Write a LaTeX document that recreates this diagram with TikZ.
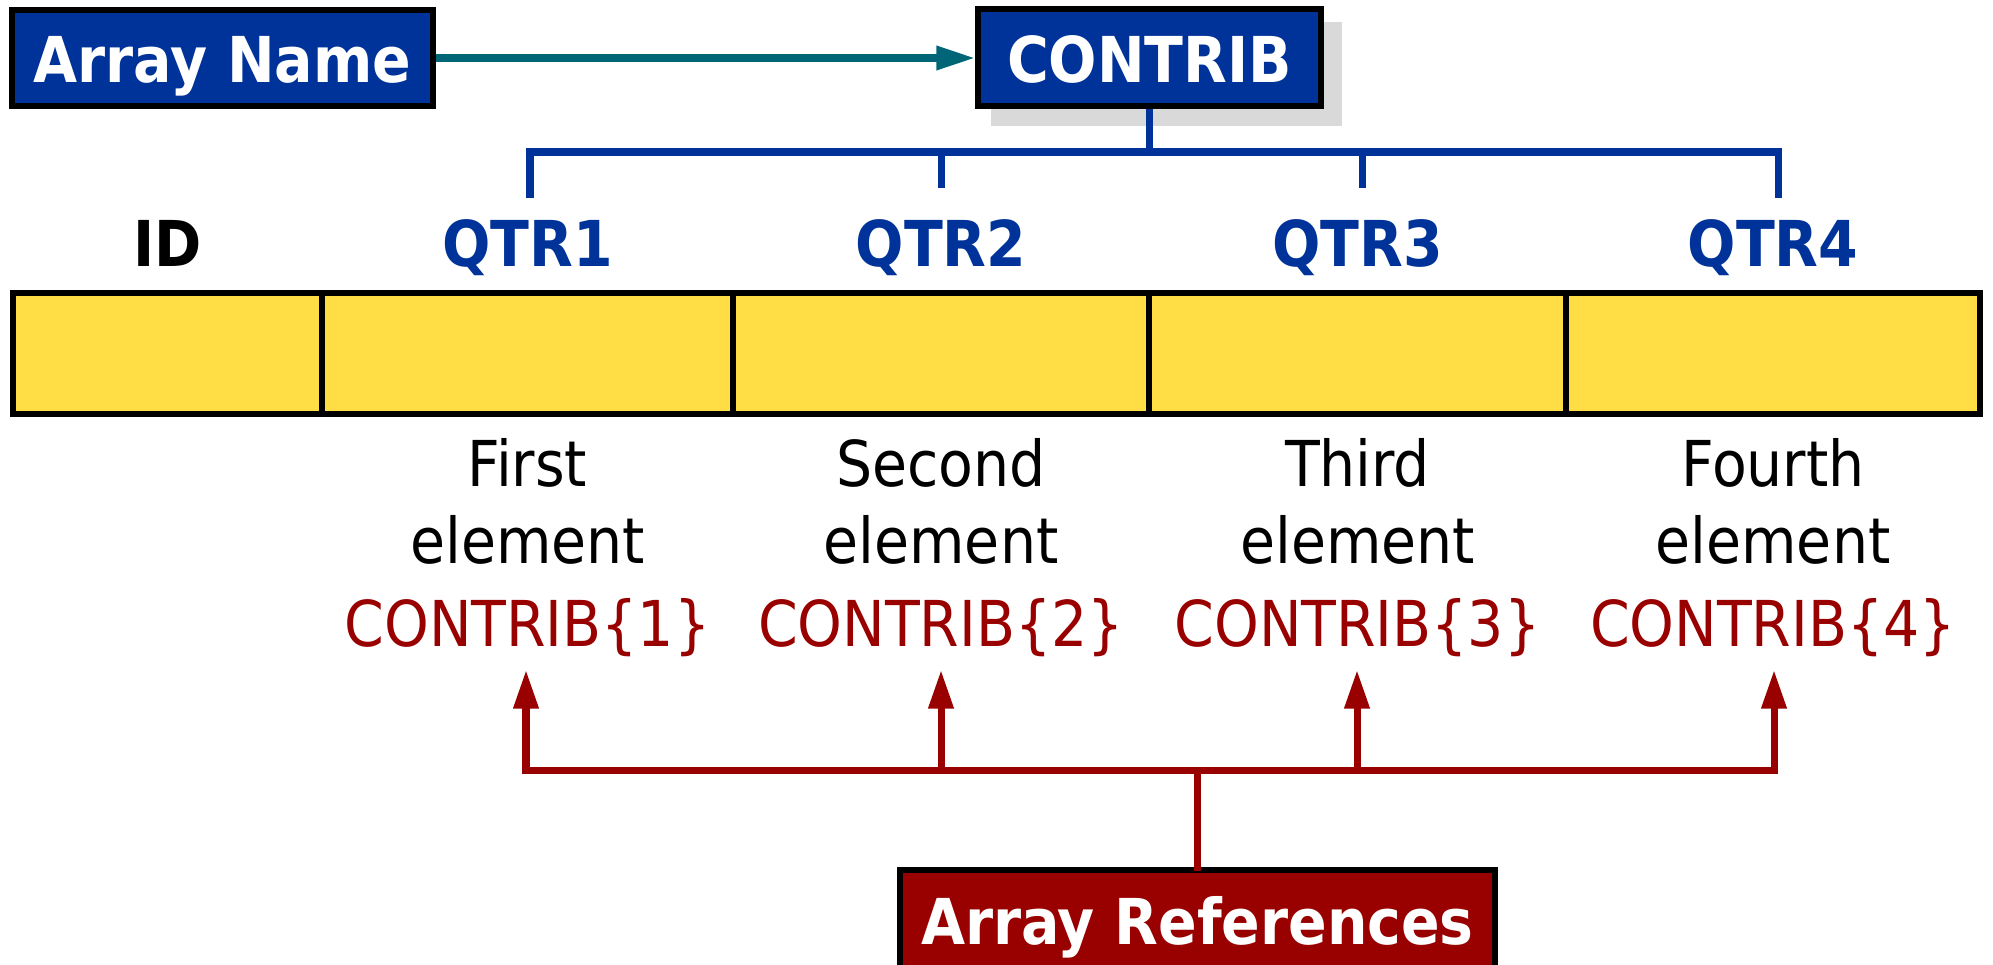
\documentclass[tikz,border=0pt]{standalone}
\usepackage{fontspec}
\setmainfont{DejaVu Sans Condensed}
\usetikzlibrary{arrows.meta}
\definecolor{nblue}{RGB}{0,51,153}
\definecolor{nteal}{RGB}{0,102,119}
\definecolor{nyellow}{RGB}{255,221,68}
\definecolor{nred}{RGB}{153,0,0}
\definecolor{nshadow}{RGB}{217,217,217}
\begin{document}
\begin{tikzpicture}[x=0.02cm,y=-0.02cm,
  every node/.style={inner sep=0pt},
  bigfont/.style={font=\fontsize{36}{43}\selectfont},
  boldfont/.style={font=\bfseries\fontsize{36}{43}\selectfont},
  bluebox/.style={boldfont, draw=black, line width=3.4pt, fill=nblue, text=white, text height=1cm, text depth=0pt},
  redbox/.style={boldfont, draw=black, line width=3.4pt, fill=nred, text=white, text height=1cm, text depth=1.44cm},
  cell/.style={draw=black, line width=3.4pt, fill=nyellow, minimum height=2.42cm},
  qlab/.style={boldfont, text=nblue, anchor=base},
  elem/.style={bigfont, text=black, anchor=base},
  reftext/.style={bigfont, text=nred, anchor=base},
  tealarrow/.style={draw=nteal, line width=4pt, -{Triangle[length=22pt,width=13pt]}},
  tree/.style={draw=nblue, line width=4pt},
  redline/.style={draw=nred, line width=4pt, line cap=rect},
  redarr/.style={draw=nred, line width=4pt, -{Triangle[length=22pt,width=13.7pt]}}
]
\useasboundingbox (0,0) rectangle (1993,964);
\clip (0,0) rectangle (1993,964);

% top boxes
\fill[nshadow] (991,22) rectangle (1342,126);
\node[bluebox, minimum width=6.86cm, minimum height=1.94cm] (contrib) at (1149.5,57.5) {CONTRIB};
\node[bluebox, minimum width=8.42cm, minimum height=1.92cm] (aname) at (222.5,58) {Array Name};
\draw[tealarrow] (aname.east) -- (aname.east -| contrib.west);

% array cells
\node[cell, minimum width=6.18cm] (c0) at (167.5,353.5) {};
\node[cell, minimum width=8.22cm] (c1) at (527.5,353.5) {};
\node[cell, minimum width=8.32cm] (c2) at (941,353.5) {};
\node[cell, minimum width=8.34cm] (c3) at (1357.5,353.5) {};
\node[cell, minimum width=8.28cm] (c4) at (1773,353.5) {};

% column labels
\node[qlab, text=black] (id) at (167.5,266) {ID};
\node[qlab] (q1) at (527.5,266) {QTR1};
\node[qlab] (q2) at (941,266) {QTR2};
\node[qlab] (q3) at (1357.5,266) {QTR3};
\node[qlab] (q4) at (1773,266) {QTR4};

% tree
\coordinate (lev) at (0,152);
\coordinate (t1) at (530,198);
\coordinate (t2) at (941,188);
\coordinate (t3) at (1362,188);
\coordinate (t4) at (1778,198);
\draw[tree] (t1) -- (t1 |- lev) -- (t4 |- lev) -- (t4);
\draw[tree] (t2) -- (t2 |- lev);
\draw[tree] (t3) -- (t3 |- lev);
\draw[tree] (contrib.south) -- (contrib.south |- lev);

% element texts
\node[elem] (f1) at (527.5,486) {First};
\node[elem] (g1) at (527.5,563) {element};
\node[reftext] (r1) at (527.5,646) {CONTRIB\{1\}};
\node[elem] (f2) at (941,486) {Second};
\node[elem] (g2) at (941,563) {element};
\node[reftext] (r2) at (941,646) {CONTRIB\{2\}};
\node[elem] (f3) at (1357.5,486) {Third};
\node[elem] (g3) at (1357.5,563) {element};
\node[reftext] (r3) at (1357.5,646) {CONTRIB\{3\}};
\node[elem] (f4) at (1773,486) {Fourth};
\node[elem] (g4) at (1773,563) {element};
\node[reftext] (r4) at (1773,646) {CONTRIB\{4\}};

% reference arrows
\coordinate (rlev) at (0,770);
\coordinate (a1) at (526,670);
\coordinate (a2) at (941,670);
\coordinate (a3) at (1357,670);
\coordinate (a4) at (1774,670);
\draw[redline] (a1 |- rlev) -- (a4 |- rlev);
\draw[redarr] (a1 |- rlev) -- (a1);
\draw[redarr] (a2 |- rlev) -- (a2);
\draw[redarr] (a3 |- rlev) -- (a3);
\draw[redarr] (a4 |- rlev) -- (a4);
\node[redbox, minimum width=11.9cm, minimum height=3.4cm] (refs) at (1197.5,955) {Array References};
\draw[redline] (refs.north) -- (refs.north |- rlev);
\end{tikzpicture}
\end{document}
